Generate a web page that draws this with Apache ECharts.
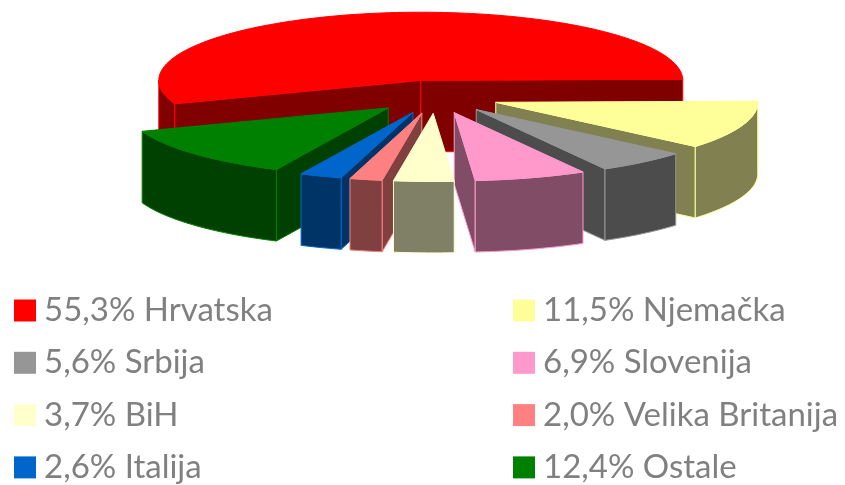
<!DOCTYPE html>
<html><head><meta charset="utf-8">
<style>html,body{margin:0;padding:0;background:#fff}#c{width:845px;height:485px}</style>
<script src="https://cdn.jsdelivr.net/npm/echarts@6/dist/echarts.min.js"></script>
</head><body><div id="c"></div>
<script>
// Data, clockwise from the 3 o'clock position of the pie
const categories = ['Njemačka','Srbija','Slovenija','BiH','Velika Britanija','Italija','Ostale','Hrvatska'];
const values     = [11.5,5.6,6.9,3.7,2.0,2.6,12.4,55.3];
const valueLabels= ['11,5%','5,6%','6,9%','3,7%','2,0%','2,6%','12,4%','55,3%'];
const palette    = ['#FFFF99','#969696','#FF99CC','#FFFFCC','#FF8080','#0066CC','#008000','#FF0000'];
const wallColors = ['#808050','#4C4C4C','#804C66','#808066','#804040','#003366','#004000','#800000'];
const legendLeft = ['Hrvatska','Srbija','BiH','Italija'];
const legendRight= ['Njemačka','Slovenija','Velika Britanija','Ostale'];

// Projection of the tilted pie
const CX=435.5, CY=96.7, R=262, TILT=0.26, DEPTH=71.5, EXPLODE=64, START=89, LARGEST_SHIFT=-3;
const total = values.reduce((a,b)=>a+b,0);
const label = i => valueLabels[i]+' '+categories[i];
const pt = (c,deg,r)=>{const t=deg*Math.PI/180;return [c[0]+r*Math.sin(t),c[1]-r*TILT*Math.cos(t)];};
const down = p=>[p[0],p[1]+DEPTH];

function arc(c,a,b){const n=Math.max(2,Math.ceil((b-a)/1.5)),o=[];
  for(let i=0;i<=n;i++)o.push(pt(c,a+(b-a)*i/n,R));return o;}

function sliceShapes(i,val){
  let before=0;for(let k=0;k<i;k++)before+=values[k];
  const a=START+before/total*360, b=a+val/total*360, mid=(a+b)/2;
  const c=pt([CX,CY],mid,EXPLODE);
  if(val===Math.max.apply(null,values))c[0]+=LARGEST_SHIFT;
  const fill=palette[i], wall=wallColors[i], out=[];
  const poly=(pts,f)=>out.push({type:'polygon',shape:{points:pts},
    style:{fill:f,stroke:fill,lineWidth:1,lineJoin:'round'}});
  const sin=d=>Math.sin(d*Math.PI/180);
  if(sin(a)<0){const p=pt(c,a,R);poly([c,p,down(p),down(c)],wall);}
  if(sin(b)>=0){const p=pt(c,b,R);poly([c,p,down(p),down(c)],wall);}
  // outer wall on the front half only
  const fa=Math.max(a,90), fb=Math.min(b,270);
  if(fb>fa){const top=arc(c,fa,fb);poly(top.concat(top.map(down).reverse()),wall);}
  poly([c].concat(arc(c,a,b)),fill);
  return out;
}

// Paint order: farthest slice first
const order = values.map((v,i)=>{let s=0;for(let k=0;k<i;k++)s+=values[k];
  const m=(START+(s+v/2)/total*360)*Math.PI/180;return {i,d:-Math.cos(m)};})
  .sort((p,q)=>p.d-q.d).map(o=>o.i);

const series = categories.map((n,i)=>({
  type:'custom',name:label(i),coordinateSystem:'none',silent:true,animation:false,
  z:2+order.indexOf(i),itemStyle:{color:palette[i]},data:[values[i]],
  renderItem:(p,api)=>({type:'group',children:sliceShapes(i,api.value(0))})
}));

const legendBase={orient:'vertical',top:294,height:190,padding:0,itemWidth:22,itemHeight:22,itemGap:19.3,icon:'rect',
  selectedMode:false,textStyle:{fontFamily:'Lato',fontSize:33,color:'#808080',padding:[0,0,0,3],lineHeight:30}};
const full=n=>label(categories.indexOf(n));

echarts.init(document.getElementById('c'),null,{renderer:'canvas'}).setOption({
  backgroundColor:'#fff',animation:false,
  legend:[
    Object.assign({},legendBase,{left:14,data:legendLeft.map(full)}),
    Object.assign({},legendBase,{left:513,data:legendRight.map(full)})
  ],
  series
});
</script></body></html>
